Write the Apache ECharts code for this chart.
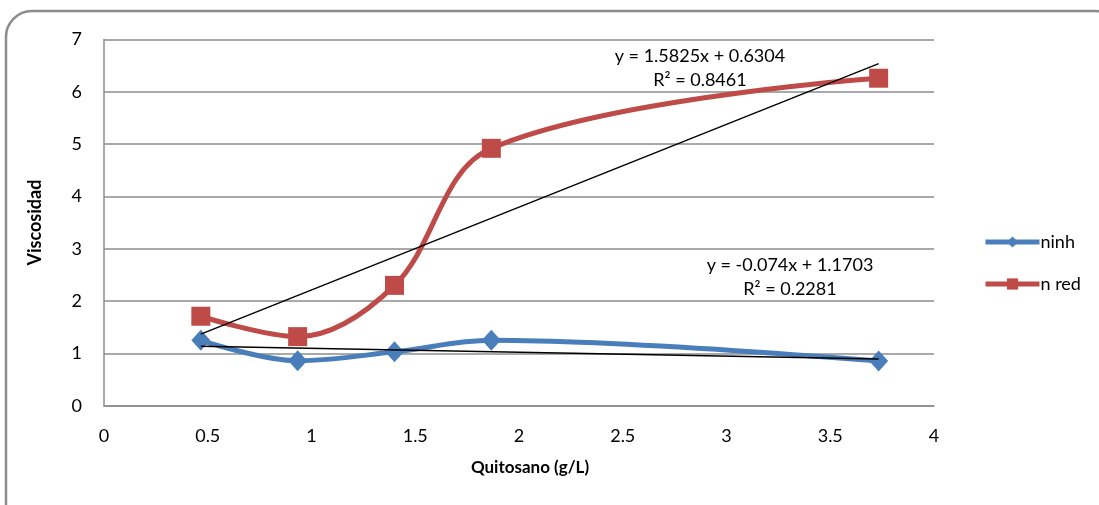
<!DOCTYPE html>
<html>
<head>
<meta charset="utf-8">
<script src="https://cdn.jsdelivr.net/npm/echarts@6/dist/echarts.min.js"></script>
<style>
  html, body { margin: 0; padding: 0; background: #fff; }
  #chart { width: 1099px; height: 505px; }
</style>
</head>
<body>
<div id="chart"></div>
<script>
// Chitosan concentration (g/L)
const concentrations = [0.4667, 0.9333, 1.4, 1.8667, 3.7333];
// Inherent viscosity
const ninhValues = [1.25, 0.86, 1.03, 1.25, 0.855];
// Reduced viscosity
const nredValues = [1.71, 1.32, 2.30, 4.92, 6.26];

// Linear fits: [slope, intercept, R²]
const ninhFit = [-0.074, 1.1703, 0.2281];
const nredFit = [1.5825, 0.6304, 0.8461];

const xTicks = [0, 0.5, 1, 1.5, 2, 2.5, 3, 3.5, 4];
const yTicks = [0, 1, 2, 3, 4, 5, 6, 7];

const FONT = 'Lato, "Open Sans", sans-serif';
const BLUE = '#4A7EBB';
const RED = '#BE4B48';

function pairs(xs, ys) { return xs.map((x, i) => [x, ys[i]]); }
function fitLine(fit) {
  const x0 = Math.min(...concentrations), x1 = Math.max(...concentrations);
  return [[x0, fit[0] * x0 + fit[1]], [x1, fit[0] * x1 + fit[1]]];
}
function equation(fit) {
  const sign = fit[1] >= 0 ? '+' : '-';
  return 'y = ' + fit[0] + 'x ' + sign + ' ' + Math.abs(fit[1]) + '\nR² = ' + fit[2];
}
function equationLabel(fit, coord) {
  return {
    symbol: 'rect', symbolSize: 1, itemStyle: { color: 'transparent' },
    data: [{ coord: coord, value: equation(fit) }],
    label: { show: true, position: 'inside', formatter: p => p.value, color: '#000',
      fontSize: 18, lineHeight: 24, align: 'center', fontFamily: FONT }
  };
}

const chart = echarts.init(document.getElementById('chart'), null, { renderer: 'canvas' });

chart.setOption({
  animation: false,
  backgroundColor: '#fff',
  textStyle: { fontFamily: FONT },
  grid: { left: 104, right: 165, top: 39.5, bottom: 99.3 },
  graphic: [
    {
      type: 'rect', z: -10, silent: true,
      shape: { x: 6, y: 11, width: 1115, height: 520, r: 26 },
      style: { fill: '#fff', stroke: '#8c8c8c', lineWidth: 2.5 }
    }
  ],
  legend: {
    orient: 'vertical',
    left: 978, top: 228,
    itemWidth: 54, itemHeight: 14, itemGap: 24,
    lineStyle: { width: 5 },
    textStyle: { fontSize: 18, color: '#000', fontFamily: FONT, padding: [0, 0, 0, -4] },
    data: ['ninh', 'n red']
  },
  xAxis: {
    type: 'value', min: 0, max: 4, interval: 0.5,
    name: 'Quitosano (g/L)', nameLocation: 'middle', nameGap: 53,
    nameTextStyle: { fontSize: 17, fontWeight: 'bold', color: '#000', fontFamily: FONT,
      padding: [0, 0, 0, 22] },
    axisLine: { show: true, lineStyle: { color: '#8c8c8c', width: 1.5 } },
    axisTick: { show: false },
    splitLine: { show: false },
    axisLabel: { fontSize: 18, color: '#000', margin: 21, fontFamily: FONT,
      formatter: v => xTicks.includes(v) ? String(v) : '' }
  },
  yAxis: {
    type: 'value', min: 0, max: 7, interval: 1,
    name: 'Viscosidad', nameLocation: 'middle', nameGap: 60,
    nameTextStyle: { fontSize: 18, fontWeight: 'bold', color: '#000', fontFamily: FONT },
    axisLine: { show: true, lineStyle: { color: '#8c8c8c', width: 1.5 } },
    axisTick: { show: false },
    splitLine: { show: true, lineStyle: { color: '#8c8c8c', width: 1.5 } },
    axisLabel: { fontSize: 18, color: '#000', margin: 22, fontFamily: FONT,
      formatter: v => yTicks.includes(v) ? String(v) : '' }
  },
  series: [
    {
      name: 'ninh', type: 'line', smooth: 0.35,
      data: pairs(concentrations, ninhValues),
      symbol: 'diamond', symbolSize: [19, 21],
      lineStyle: { color: BLUE, width: 5 },
      itemStyle: { color: BLUE },
      z: 3
    },
    {
      name: 'n red', type: 'line', smooth: 0.35,
      data: pairs(concentrations, nredValues),
      symbol: 'rect', symbolSize: 19,
      lineStyle: { color: RED, width: 5 },
      itemStyle: { color: RED },
      z: 3
    },
    {
      name: 'fit ninh', type: 'line', data: fitLine(ninhFit),
      symbol: 'none', lineStyle: { color: '#000', width: 1.5 }, z: 4, silent: true,
      markPoint: equationLabel(ninhFit, [3.306, 2.46])
    },
    {
      name: 'fit n red', type: 'line', data: fitLine(nredFit),
      symbol: 'none', lineStyle: { color: '#000', width: 1.5 }, z: 4, silent: true,
      markPoint: equationLabel(nredFit, [2.872, 6.455])
    }
  ]
});
</script>
</body>
</html>
